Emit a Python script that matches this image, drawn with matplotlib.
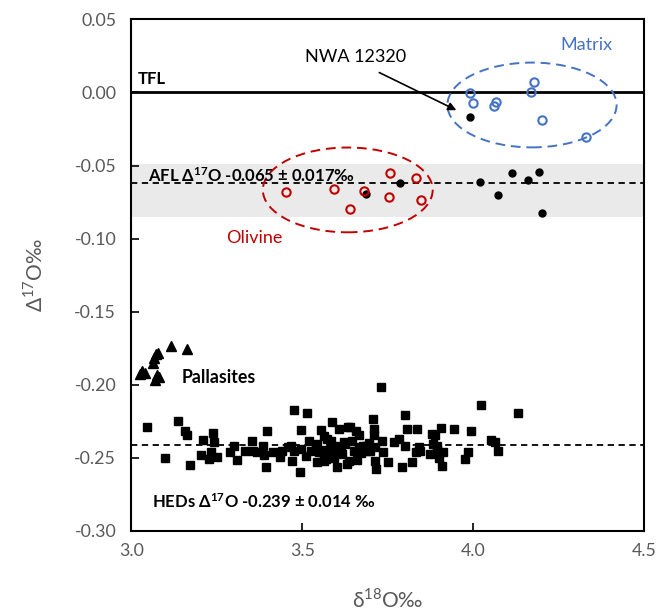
import matplotlib
matplotlib.use("Agg")
import matplotlib.pyplot as plt
from matplotlib.patches import Ellipse

plt.rcParams['font.family'] = ['Lato', 'DejaVu Sans']
plt.rcParams['mathtext.fontset'] = 'custom'
plt.rcParams['mathtext.rm'] = 'Lato'
plt.rcParams['mathtext.bf'] = 'Lato:bold'

# matrix (blue open circles)
matrix_x = [3.992, 4.000, 4.061, 4.068, 4.168, 4.179, 4.200, 4.329]
matrix_y = [-0.0004, -0.0075, -0.0091, -0.0068, 0.0005, 0.0071, -0.0187, -0.0303]

# olivine (red open circles)
oliv_x = [3.451, 3.594, 3.639, 3.681, 3.753, 3.757, 3.834, 3.846]
oliv_y = [-0.0684, -0.0663, -0.0798, -0.0677, -0.0718, -0.0549, -0.0583, -0.0734]

# bulk (black filled circles), first one is NWA 12320
bulk_x = [3.990, 3.687, 3.787, 4.021, 4.072, 4.113, 4.161, 4.192, 4.200]
bulk_y = [-0.0171, -0.0695, -0.0622, -0.0616, -0.0704, -0.0551, -0.0599, -0.0542, -0.0825]

# pallasites (triangles)
pall_x = [3.025, 3.032, 3.040, 3.062, 3.066, 3.072, 3.078, 3.117, 3.163, 3.070, 3.080, 3.075]
pall_y = [-0.1925, -0.1905, -0.1920, -0.1850, -0.1820, -0.1790, -0.1780, -0.1733, -0.1755,
          -0.1970, -0.1950, -0.1935]

# HEDs (squares)
hed_x = [3.047, 3.098, 3.136, 3.158, 3.164, 3.170, 3.203, 3.209, 3.226, 3.232,
         3.238, 3.241, 3.251, 3.287, 3.301, 3.310, 3.331, 3.353, 3.355, 3.367,
         3.384, 3.389, 3.394, 3.398, 3.413, 3.435, 3.442, 3.457, 3.466, 3.471,
         3.476, 3.476, 3.493, 3.495, 3.495, 3.510, 3.515, 3.521, 3.525, 3.539,
         3.544, 3.544, 3.549, 3.554, 3.558, 3.563, 3.568, 3.568, 3.573, 3.583,
         3.587, 3.587, 3.592, 3.602, 3.607, 3.607, 3.612, 3.621, 3.626, 3.631,
         3.634, 3.636, 3.639, 3.646, 3.658, 3.660, 3.665, 3.665, 3.678, 3.685,
         3.689, 3.699, 3.707, 3.709, 3.709, 3.714, 3.714, 3.715, 3.731, 3.733,
         3.736, 3.750, 3.767, 3.784, 3.793, 3.799, 3.801, 3.806, 3.820, 3.833,
         3.835, 3.840, 3.845, 3.874, 3.880, 3.883, 3.888, 3.893, 3.893, 3.900,
         3.907, 3.910, 3.912, 3.944, 3.976, 3.985, 3.995, 4.024, 4.053, 4.063,
         4.072, 4.131, 3.563, 3.578, 3.598, 3.615, 3.650, 3.672, 3.695]
hed_y = [-0.2291, -0.2501, -0.2246, -0.2314, -0.2341, -0.2549, -0.2480, -0.2378, -0.2508, -0.2462,
         -0.2332, -0.2389, -0.2492, -0.2462, -0.2421, -0.2512, -0.2451, -0.2382, -0.2456, -0.2458,
         -0.2421, -0.2480, -0.2565, -0.2319, -0.2462, -0.2492, -0.2451, -0.2423, -0.2421, -0.2519,
         -0.2170, -0.2451, -0.2599, -0.2307, -0.2439, -0.2485, -0.2193, -0.2382, -0.2456, -0.2428,
         -0.2405, -0.2531, -0.2462, -0.2307, -0.2462, -0.2353, -0.2444, -0.2508, -0.2371, -0.2385,
         -0.2257, -0.2428, -0.2503, -0.2565, -0.2305, -0.2421, -0.2450, -0.2394, -0.2405, -0.2542,
         -0.2287, -0.2519, -0.2291, -0.2382, -0.2314, -0.2515, -0.2343, -0.2428, -0.2417, -0.2417,
         -0.2451, -0.2451, -0.2234, -0.2302, -0.2343, -0.2428, -0.2519, -0.2576, -0.2018, -0.2382,
         -0.2458, -0.2531, -0.2394, -0.2371, -0.2565, -0.2207, -0.2420, -0.2305, -0.2531, -0.2458,
         -0.2302, -0.2428, -0.2451, -0.2473, -0.2336, -0.2405, -0.2343, -0.2417, -0.2444, -0.2501,
         -0.2296, -0.2553, -0.2462, -0.2302, -0.2508, -0.2462, -0.2319, -0.2136, -0.2378, -0.2389,
         -0.2451, -0.2193, -0.2519, -0.2480, -0.2450, -0.2475, -0.2455, -0.2470, -0.2400]

# reference lines / band
tfl_y = 0.0
afl_y = -0.062
afl_band = (-0.085, -0.049)
hed_line_y = -0.241

xticks = [3.0, 3.5, 4.0, 4.5]
xtick_labels = ['3.0', '3.5', '4.0', '4.5']
yticks = [0.05, 0.0, -0.05, -0.10, -0.15, -0.20, -0.25, -0.30]
ytick_labels = ['0.05', '0.00', '-0.05', '-0.10', '-0.15', '-0.20', '-0.25', '-0.30']

blue = '#4472C4'
red = '#C00000'
grey = '#595959'

fig = plt.figure(figsize=(6.59, 6.13), dpi=100)
ax = fig.add_axes([0.1994, 0.1338, 0.7780, 0.8347])
ax.set_xlim(3.0, 4.5)
ax.set_ylim(-0.30, 0.05)

ax.axhspan(afl_band[0], afl_band[1], color='#EAEAEA', lw=0, zorder=0)
ax.axhline(tfl_y, color='k', lw=2, zorder=1)
ax.axhline(afl_y, color='k', lw=1.3, dashes=(3.5, 2.5), zorder=1)
ax.axhline(hed_line_y, color='k', lw=1.3, dashes=(3.5, 2.5), zorder=1)

ax.add_patch(Ellipse((4.172, -0.0086), 0.495, 0.058, fill=False, ec=blue,
                     lw=1.4, ls=(0, (5, 3)), zorder=2))
ax.add_patch(Ellipse((3.633, -0.0667), 0.497, 0.058, fill=False, ec=red,
                     lw=1.4, ls=(0, (5, 3)), zorder=2))

ax.plot(hed_x, hed_y, 's', color='k', ms=5.3, zorder=3)
ax.plot(pall_x, pall_y, '^', color='k', ms=7, zorder=3)
ax.plot(bulk_x, bulk_y, 'o', color='k', ms=5, zorder=4)
ax.plot(matrix_x, matrix_y, 'o', mfc='none', mec=blue, mew=1.5, ms=6, zorder=4)
ax.plot(oliv_x, oliv_y, 'o', mfc='none', mec=red, mew=1.5, ms=6, zorder=4)

ax.annotate('', xy=(3.958, -0.013), xytext=(3.718, 0.0144),
            arrowprops=dict(arrowstyle='-|>', color='k', lw=1.2, mutation_scale=12))
ax.text(3.655, 0.024, 'NWA 12320', fontsize=13, ha='center', va='center')
ax.text(4.33, 0.0326, 'Matrix', fontsize=13, color=blue, ha='center', va='center')
ax.text(3.36, -0.0995, 'Olivine', fontsize=13, color=red, ha='center', va='center')
ax.text(3.018, 0.009, 'TFL', fontsize=12, fontweight='bold', ha='left', va='center')
ax.text(3.049, -0.057, r'AFL Δ$\mathbf{^{17}}$O -0.065 ± 0.017‰', fontsize=12,
        fontweight='bold', ha='left', va='center')
ax.text(3.146, -0.1953, 'Pallasites', fontsize=12.8, fontweight='bold', ha='left', va='center')
ax.text(3.059, -0.280, r'HEDs Δ$\mathbf{^{17}}$O -0.239 ± 0.014 ‰', fontsize=12,
        fontweight='bold', ha='left', va='center')

ax.set_xticks(xticks)
ax.set_xticklabels(xtick_labels)
ax.set_yticks(yticks)
ax.set_yticklabels(ytick_labels)
ax.tick_params(direction='in', length=6, width=1.2, colors='k', labelcolor=grey, labelsize=12.8)
ax.tick_params(axis='y', pad=11)
ax.tick_params(axis='x', pad=9)
for s in ax.spines.values():
    s.set_linewidth(1.5)
    s.set_color('k')

ax.set_xlabel(r'δ$^{18}$O‰', fontsize=15, color=grey)
ax.set_ylabel(r'Δ$^{17}$O‰', fontsize=15, color=grey)
ax.xaxis.set_label_coords(0.5, -0.11)
ax.yaxis.set_label_coords(-0.165, 0.5)

fig.savefig('out.png', dpi=100)
